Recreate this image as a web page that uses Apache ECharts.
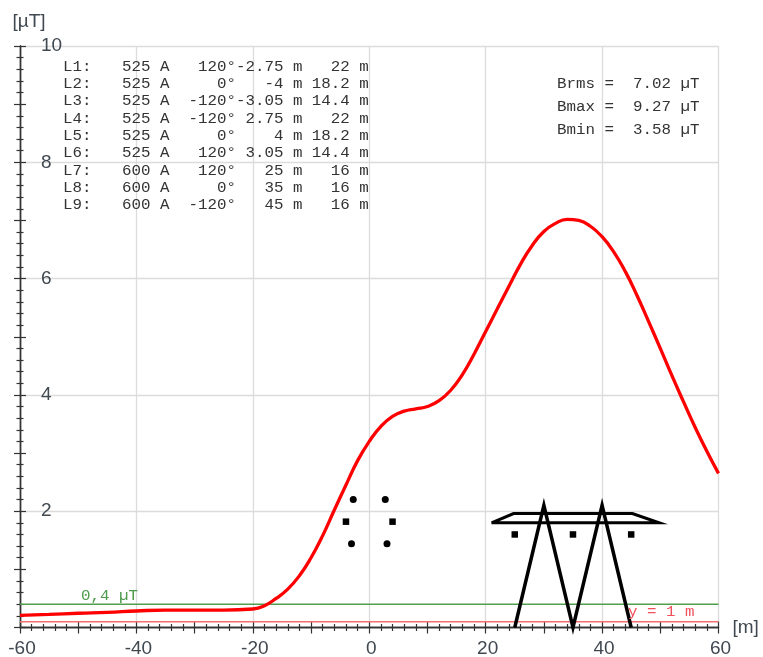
<!DOCTYPE html>
<html>
<head>
<meta charset="utf-8">
<style>html,body{margin:0;background:#fff}#main{width:763px;height:657px}</style>
<script src="https://cdn.jsdelivr.net/npm/echarts@6/dist/echarts.min.js"></script>
</head>
<body>
<div id="main"></div>
<script>
// field curve
const distance = [-60,-55,-50,-45,-40,-35,-30,-25,-20,-18,-16,-14,-12,-10,-8,-6,-4,-2,0,2,4,6,8,10,12,14,16,18,20,22,24,26,28,30,32,34,36,38,40,42,44,46,48,50,52,54,56,58,60];
const field = [0.21,0.225,0.245,0.26,0.284,0.30,0.30,0.30,0.318,0.375,0.50,0.66,0.89,1.20,1.58,2.02,2.45,2.87,3.20,3.46,3.63,3.72,3.76,3.80,3.90,4.08,4.35,4.70,5.09,5.48,5.87,6.25,6.57,6.81,6.95,7.02,7.00,6.90,6.72,6.46,6.12,5.71,5.26,4.80,4.33,3.88,3.44,3.03,2.65];

// conductor table
const lineNames = ['L1','L2','L3','L4','L5','L6','L7','L8','L9'];
const lineCurrent = [525,525,525,525,525,525,600,600,600];
const linePhase = [120,0,-120,-120,0,120,120,0,-120];
const lineX = [-2.75,-4,-3.05,2.75,4,3.05,25,35,45];
const lineH = [22,18.2,14.4,22,18.2,14.4,16,16,16];
const squareLines = ['L2','L5','L7','L8','L9'];

const stats = ['Brms =  7.02 µT','Bmax =  9.27 µT','Bmin =  3.58 µT'];

const limitX = [-60,60];
const limitGreen = [0.4,0.4];
const limitRed = [0.1,0.1];

// tower outline
const towerLegsX = [25,30,35,40,45];
const towerLegsY = [0,2.1,0,2.1,0];
const towerArmX = [21,24.8,45.2,49.8,21];
const towerArmY = [1.8,1.96,1.96,1.8,1.8];

const zip = (a, b) => a.map((v, i) => [v, b[i]]);
const condPoints = names => lineNames
  .map((n, i) => ({n, p: [lineX[i], lineH[i] / 10]}))
  .filter(o => names(o.n)).map(o => o.p);

const axisColor = '#333';
const labelColor = '#404850';
const font = '"Liberation Sans", Arial, sans-serif';

// ticks stick out both sides of the axis so each one needs an in and an out copy
function tickAxis(position, range, interval, inside) {
  return {
    type: 'value', position: position, min: range[0], max: range[1], interval: interval,
    axisLine: {show: true, onZero: false, lineStyle: {color: axisColor, width: 1.4}},
    axisTick: {show: true, inside: inside, length: 6, lineStyle: {color: axisColor, width: 1.2}},
    minorTick: {show: true, splitNumber: 5, length: 3.5, lineStyle: {color: axisColor, width: 1.2}},
    axisLabel: {show: false},
    splitLine: {show: false}
  };
}

const xMain = {
  type: 'value', position: 'bottom', min: -60, max: 60, interval: 20,
  name: '[m]', nameGap: 14,
  nameTextStyle: {fontFamily: font, fontSize: 19, color: labelColor, verticalAlign: 'middle'},
  axisLine: {show: false, onZero: false},
  axisTick: {show: false},
  axisLabel: {fontFamily: font, fontSize: 19, color: labelColor, margin: 12, padding: [0, 0, 0, 4]},
  splitLine: {show: true, lineStyle: {color: '#dcdcdc', width: 1.3}}
};
const yMain = {
  type: 'value', position: 'left', min: 0, max: 10, interval: 2,
  name: '[µT]', nameGap: 15,
  nameTextStyle: {fontFamily: font, fontSize: 19, color: labelColor, padding: [0, 0, 0, 18]},
  axisLine: {show: false, onZero: false},
  axisTick: {show: false},
  axisLabel: {
    inside: true, margin: 21, fontFamily: font, fontSize: 19, color: labelColor,
    padding: [3, 0, 0, 0],
    formatter: v => v === 0 ? '' : v
  },
  splitLine: {show: true, lineStyle: {color: '#dcdcdc', width: 1.3}}
};

// text blocks, stretched to the wide monospace of the original
const mono = '14px "Liberation Mono", "Courier New", monospace';
function monoText(text, x, y, fill) {
  return {
    type: 'text', x: x, y: y, scaleX: 1.13, z: 20,
    style: {text: text, fill: fill || '#333', font: mono, verticalAlign: 'middle'}
  };
}
const rows = lineNames.map((n, i) => {
  const ph = (linePhase[i] + '°').padStart(5);
  const xs = String(lineX[i]).padStart(5);
  const hs = String(lineH[i]).padStart(4);
  return [
    monoText(n + ':', 63, 67 + i * 17.3),
    monoText(lineCurrent[i] + ' A  ' + ph + xs + ' m ' + hs + ' m', 122, 67 + i * 17.3)
  ];
}).flat();
const statRows = stats.map((s, i) => monoText(s, 557, 84 + i * 23.2));

const chart = echarts.init(document.getElementById('main'));
chart.setOption({
  backgroundColor: '#fff',
  animation: false,
  grid: {left: 20, right: 44.5, top: 46, bottom: 29.5, outerBoundsMode: 'none'},
  xAxis: [xMain, tickAxis('bottom', [-60,60], 10, false), tickAxis('bottom', [-60,60], 10, true)],
  yAxis: [yMain, tickAxis('left', [0,10], 1, false), tickAxis('left', [0,10], 1, true)],
  graphic: rows.concat(statRows, [
    monoText('0,4 µT', 81, 596, '#4c9a4c'),
    monoText('y = 1 m', 628, 612, '#f0505a')
  ]),
  series: [
    {type: 'line', data: zip(limitX, limitGreen), symbol: 'none', lineStyle: {color: '#4f9f4f', width: 1.5}, z: 3},
    {type: 'line', data: zip(limitX, limitRed), symbol: 'none', lineStyle: {color: '#f47070', width: 1.5}, z: 3},
    {type: 'line', data: zip(towerLegsX, towerLegsY), symbol: 'none', clip: false,
      lineStyle: {color: '#000', width: 3.5, join: 'miter', miterLimit: 20}, z: 5},
    {type: 'line', data: zip(towerArmX, towerArmY), symbol: 'none', clip: false,
      lineStyle: {color: '#000', width: 3, join: 'miter', miterLimit: 20}, z: 5},
    {type: 'scatter', data: condPoints(n => !squareLines.includes(n)), symbol: 'circle', symbolSize: 7,
      itemStyle: {color: '#000', opacity: 1}, z: 5},
    {type: 'scatter', data: condPoints(n => squareLines.includes(n)), symbol: 'rect', symbolSize: 6.5,
      itemStyle: {color: '#000', opacity: 1}, z: 5},
    {type: 'line', data: zip(distance, field), symbol: 'none', smooth: 0.5,
      lineStyle: {color: '#f00', width: 3.3}, z: 6}
  ]
});
</script>
</body>
</html>
